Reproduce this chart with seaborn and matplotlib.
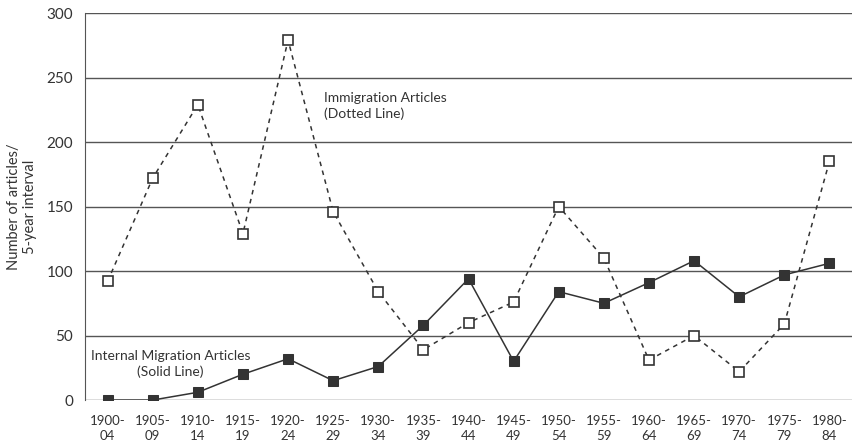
import numpy as np
import pandas as pd
import matplotlib
matplotlib.use("Agg")
import matplotlib.pyplot as plt
import seaborn as sns

sns.set_style("white")
plt.rcParams["font.family"] = ["Lato", "DejaVu Sans"]

# =========================
# DATA
# =========================
periods = ["1900-\n04", "1905-\n09", "1910-\n14", "1915-\n19", "1920-\n24",
           "1925-\n29", "1930-\n34", "1935-\n39", "1940-\n44", "1945-\n49",
           "1950-\n54", "1955-\n59", "1960-\n64", "1965-\n69", "1970-\n74",
           "1975-\n79", "1980-\n84"]
immigration = [92, 172, 229, 129, 279, 146, 84, 39, 60, 76, 150, 110, 31, 50, 22, 59, 185]
internal = [0, 0, 6, 20, 32, 15, 26, 58, 94, 30, 84, 75, 91, 108, 80, 97, 106]
y_ticks = [0, 50, 100, 150, 200, 250, 300]

df = pd.DataFrame({
    "pos": np.arange(len(periods)),
    "immigration": immigration,
    "internal": internal,
})

ink = "#333333"

fig = plt.figure(figsize=(8.52, 4.44), dpi=100)
ax = fig.add_axes([0.0998, 0.099, 0.9002, 0.8717])

# horizontal grid lines
for yv in y_ticks:
    ax.axhline(yv, color="#555555", lw=1.0, zorder=0)

sns.lineplot(data=df, x="pos", y="immigration", ax=ax, color=ink, lw=1.1,
             linestyle=(0, (3, 3)), marker="s", markersize=7.5,
             markerfacecolor="white", markeredgecolor=ink, markeredgewidth=1.2,
             zorder=3)
sns.lineplot(data=df, x="pos", y="internal", ax=ax, color=ink, lw=1.1,
             marker="s", markersize=7.5, markerfacecolor=ink,
             markeredgecolor=ink, zorder=3)

ax.set_xlim(-0.5, len(periods) - 0.6)
ax.set_ylim(0, 300)
ax.set_yticks(y_ticks)
ax.set_xticks(df["pos"])
ax.set_xticklabels(periods, fontsize=9.5, color=ink, linespacing=1.3)
ax.set_xticks(np.arange(-0.5, len(periods), 1), minor=True)
ax.tick_params(axis="x", which="major", length=0, pad=11)
ax.tick_params(axis="x", which="minor", length=5, color="#555555", width=1)
ax.tick_params(axis="y", length=5, color="#555555", width=1, labelsize=11,
               labelcolor=ink)
ax.set_xlabel("")
ax.set_ylabel("Number of articles/\n5-year interval", fontsize=10.5, color=ink,
              labelpad=7)

sns.despine(ax=ax, top=True, right=True)
ax.spines["left"].set_color("#555555")
ax.spines["bottom"].set_visible(False)

ax.text(4.8, 228, "Immigration Articles\n(Dotted Line)", fontsize=10, color=ink,
        ha="left", va="center", linespacing=1.4)
ax.text(1.4, 28, "Internal Migration Articles\n(Solid Line)", fontsize=10,
        color=ink, ha="center", va="center", linespacing=1.4)

fig.savefig("out.png", dpi=100)
